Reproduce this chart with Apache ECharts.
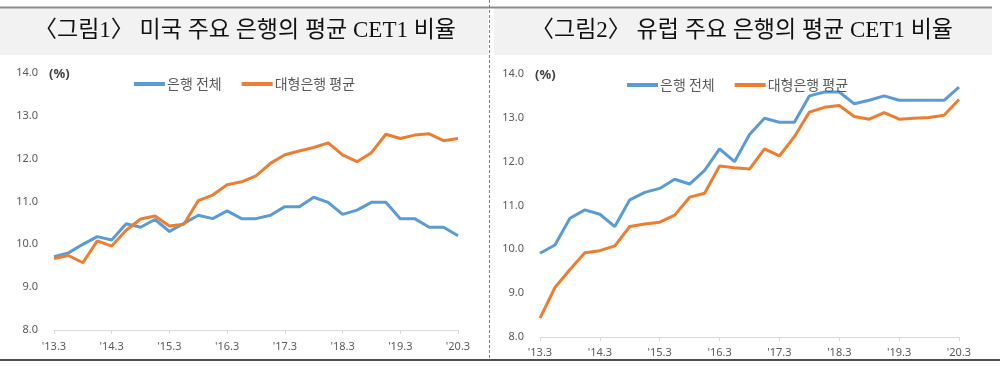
<!DOCTYPE html>
<html>
<head>
<meta charset="utf-8">
<script src="https://cdn.jsdelivr.net/npm/echarts@6/dist/echarts.min.js"></script>
<style>
html,body{margin:0;padding:0;background:#fff;}
#c{width:1000px;height:367px;}
</style>
</head>
<body>
<div id="c"></div>
<script>
var categories = [];
(function(){
  var qs = ['3','6','9','12'];
  for (var y = 13; y <= 20; y++) {
    for (var q = 0; q < 4; q++) {
      if (y === 20 && q > 0) break;
      categories.push("'" + y + "." + qs[q]);
    }
  }
})();

var titleLeft = '〈그림1〉 미국 주요 은행의 평균 CET1 비율';
var titleRight = '〈그림2〉 유럽 주요 은행의 평균 CET1 비율';
var seriesNames = ['은행 전체', '대형은행 평균'];
var unitLabel = '(%)';

var usAll = [9.71, 9.8, 10.0, 10.18, 10.1, 10.48, 10.4, 10.58, 10.3, 10.49, 10.68, 10.6, 10.78, 10.6, 10.6, 10.68, 10.88, 10.88, 11.1, 10.98, 10.7, 10.8, 10.98, 10.98, 10.6, 10.6, 10.4, 10.4, 10.2];
var usLarge = [9.67, 9.74, 9.57, 10.08, 9.96, 10.33, 10.59, 10.66, 10.43, 10.47, 11.02, 11.15, 11.39, 11.46, 11.6, 11.89, 12.09, 12.18, 12.26, 12.37, 12.09, 11.93, 12.14, 12.57, 12.47, 12.55, 12.58, 12.42, 12.47];
var euAll = [9.91, 10.1, 10.71, 10.9, 10.8, 10.52, 11.13, 11.3, 11.39, 11.6, 11.49, 11.8, 12.29, 12.0, 12.62, 12.99, 12.9, 12.9, 13.5, 13.59, 13.59, 13.32, 13.4, 13.5, 13.4, 13.4, 13.4, 13.4, 13.7];
var euLarge = [8.43, 9.13, 9.54, 9.92, 9.97, 10.08, 10.52, 10.58, 10.62, 10.78, 11.19, 11.28, 11.9, 11.86, 11.83, 12.29, 12.13, 12.57, 13.13, 13.24, 13.28, 13.03, 12.97, 13.12, 12.97, 12.99, 13.01, 13.06, 13.42];

var yMin = 8, yMax = 14, yStep = 1;

var BLUE = '#5b9bd5', ORANGE = '#ed7d31';
var labelColor = '#595959';
var numFont = '"Noto Sans", "Open Sans", sans-serif';
var krFont = '"Noto Sans CJK KR", "Noto Sans", sans-serif';
var titleFont = '"Liberation Serif", "Noto Sans CJK KR", serif';

function xAxis(gi, margin) {
  return {
    type: 'category', gridIndex: gi, data: categories, boundaryGap: false,
    axisLine: {lineStyle: {color: '#d9d9d9', width: 1}},
    axisTick: {interval: 3, length: 4, lineStyle: {color: '#d9d9d9'}},
    axisLabel: {interval: 3, color: labelColor, fontFamily: numFont, fontSize: 11, margin: margin}
  };
}
function yAxis(gi) {
  return {
    type: 'value', gridIndex: gi, min: yMin, max: yMax, interval: yStep,
    axisLine: {show: false}, axisTick: {show: false}, splitLine: {show: false},
    axisLabel: {color: labelColor, fontFamily: numFont, fontSize: 11, margin: 16,
      formatter: function(v){ return v.toFixed(1); }}
  };
}
function line(name, data, color, gi) {
  return {
    name: name, type: 'line', xAxisIndex: gi, yAxisIndex: gi, data: data,
    showSymbol: false, symbol: 'none', smooth: false, animation: false,
    lineStyle: {color: color, width: 3}, itemStyle: {color: color}
  };
}
function legend(left, top) {
  return {
    left: left, top: top, data: seriesNames, itemWidth: 31, itemHeight: 4,
    icon: 'rect', itemGap: 20,
    textStyle: {color: labelColor, fontFamily: krFont, fontSize: 14, padding: [0,0,0,-3]}
  };
}

var chart = echarts.init(document.getElementById('c'), null, {renderer: 'canvas'});
chart.setOption({
  backgroundColor: '#fff',
  animation: false,
  grid: [
    {left: 54, width: 404, top: 73, height: 257},
    {left: 540, width: 419, top: 74, height: 263}
  ],
  xAxis: [xAxis(0, 11), xAxis(1, 10)],
  yAxis: [yAxis(0), yAxis(1)],
  legend: [legend(129, 72), legend(622, 73)],
  series: [
    line(seriesNames[0], usAll, BLUE, 0),
    line(seriesNames[1], usLarge, ORANGE, 0),
    line(seriesNames[0], euAll, BLUE, 1),
    line(seriesNames[1], euLarge, ORANGE, 1)
  ],
  graphic: [
    {type: 'rect', shape: {x: 0, y: 8, width: 488, height: 47}, style: {fill: '#f2f2f2'}, z: -10},
    {type: 'rect', shape: {x: 494, y: 8, width: 498, height: 47}, style: {fill: '#f2f2f2'}, z: -10},
    {type: 'line', shape: {x1: 0, y1: 7.5, x2: 992, y2: 7.5}, style: {stroke: '#8c8c8c', lineWidth: 2}},
    {type: 'line', shape: {x1: 489.5, y1: 0, x2: 489.5, y2: 359}, style: {stroke: '#7f7f7f', lineWidth: 1, lineDash: [3, 2]}},
    {type: 'line', shape: {x1: 0, y1: 360, x2: 1000, y2: 360}, style: {stroke: '#4d4d4d', lineWidth: 2}},
    {type: 'text', style: {text: titleLeft, x: 245, y: 31, textAlign: 'center', textVerticalAlign: 'middle', font: '23px ' + titleFont, fill: '#111'}},
    {type: 'text', style: {text: titleRight, x: 742, y: 31, textAlign: 'center', textVerticalAlign: 'middle', font: '23px ' + titleFont, fill: '#111'}},
    {type: 'text', style: {text: unitLabel, x: 49, y: 74, textVerticalAlign: 'middle', font: 'bold 13px ' + numFont, fill: '#404040'}},
    {type: 'text', style: {text: unitLabel, x: 535, y: 75, textVerticalAlign: 'middle', font: 'bold 13px ' + numFont, fill: '#404040'}}
  ]
});
</script>
</body>
</html>
